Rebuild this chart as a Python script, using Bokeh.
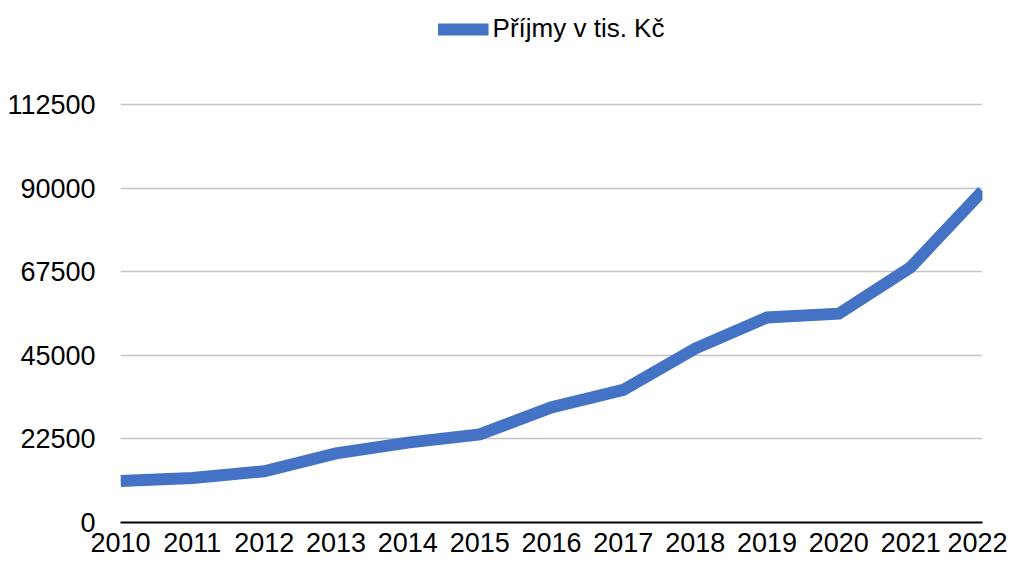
from bokeh.plotting import figure
from bokeh.models import Range1d, FixedTicker, Legend, LegendItem, ColumnDataSource
from bokeh.embed import file_html
from bokeh.resources import INLINE

years = [2010, 2011, 2012, 2013, 2014, 2015, 2016, 2017, 2018, 2019, 2020, 2021, 2022]
prijmy = [11200, 12000, 13800, 18600, 21500, 23700, 31000, 35700, 46800, 55200, 56200, 68700, 89200]
y_ticks = [0, 22500, 45000, 67500, 90000, 112500]
series_name = "Příjmy v tis. Kč"

FONT = "Liberation Sans"

# frame spans from the top of the figure down to the zero line; the upper
# part of the y range holds the legend (112500 sits 418 px above 0, 522 px frame)
y_top = 112500 * 522 / 418

p = figure(width=1007, height=564, output_backend="svg", toolbar_location=None,
           x_range=Range1d(2010, 2022), y_range=Range1d(0, y_top),
           min_border_left=120, min_border_right=25, min_border_top=0, min_border_bottom=42)
p.outline_line_color = None
p.background_fill_color = "white"
p.border_fill_color = "white"

src = ColumnDataSource(dict(x=years, y=prijmy))
r = p.line("x", "y", source=src, line_color="#4472C4", line_width=12, line_join="miter")

p.xaxis.ticker = FixedTicker(ticks=years)
p.xaxis.major_label_overrides = {y: str(y) for y in years}
p.xaxis.axis_line_color = "black"
p.xaxis.axis_line_width = 2
p.xaxis.major_tick_line_color = None
p.xaxis.minor_tick_line_color = None
p.xaxis.major_tick_out = 0
p.xaxis.major_label_standoff = 10
p.xaxis.major_label_text_font = FONT
p.xaxis.major_label_text_font_size = "27px"
p.xaxis.major_label_text_color = "black"

p.yaxis.ticker = FixedTicker(ticks=y_ticks)
p.yaxis.major_label_overrides = {t: str(t) for t in y_ticks}
p.yaxis.axis_line_color = None
p.yaxis.major_tick_line_color = None
p.yaxis.minor_tick_line_color = None
p.yaxis.major_tick_out = 0
p.yaxis.major_label_standoff = 25
p.yaxis.major_label_text_font = FONT
p.yaxis.major_label_text_font_size = "27px"
p.yaxis.major_label_text_color = "black"

p.xgrid.grid_line_color = None
p.ygrid.ticker = FixedTicker(ticks=y_ticks)
p.ygrid.grid_line_color = "#c4c4c4"
p.ygrid.grid_line_width = 1.5

legend = Legend(items=[LegendItem(label=series_name, renderers=[r])],
                location="top_center", orientation="horizontal",
                label_text_font=FONT, label_text_font_size="26px",
                label_text_color="black",
                glyph_width=51, glyph_height=26, label_standoff=4,
                padding=0, margin=13, border_line_color=None,
                background_fill_alpha=0)
p.add_layout(legend, "center")

open("out.html", "w").write(file_html(p, INLINE))
